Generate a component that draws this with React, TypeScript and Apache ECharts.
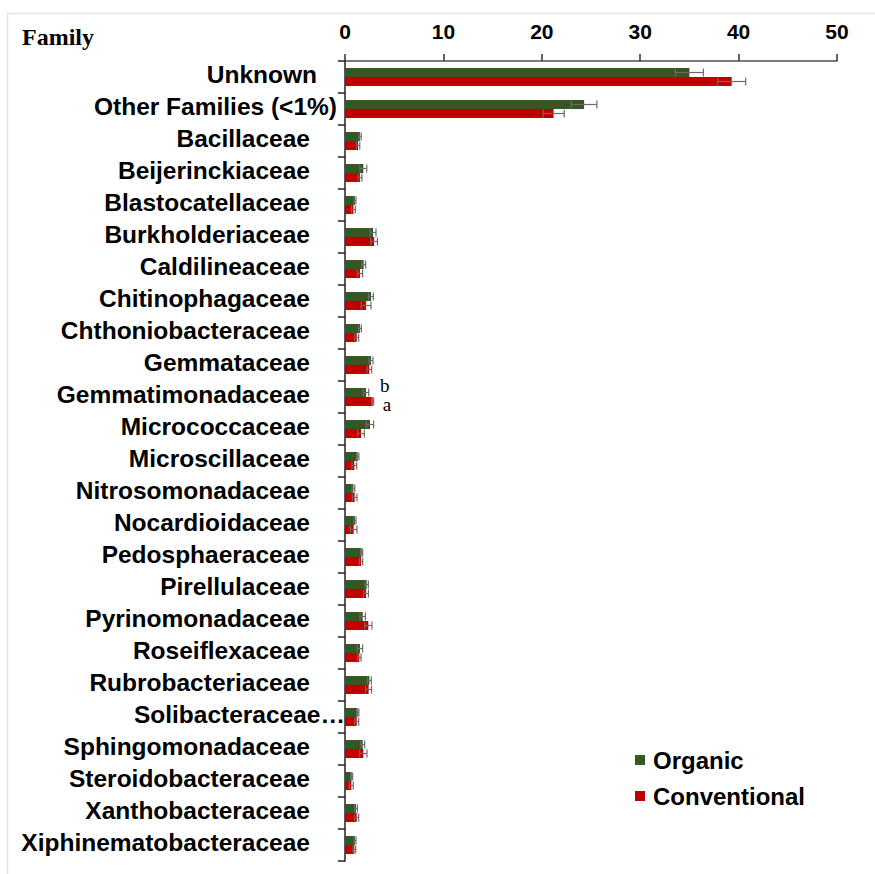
import React, { useEffect, useRef } from "react";
import * as echarts from "echarts";

// Bacterial families, listed top to bottom
const categories = [
  "Unknown",
  "Other Families (<1%)",
  "Bacillaceae",
  "Beijerinckiaceae",
  "Blastocatellaceae",
  "Burkholderiaceae",
  "Caldilineaceae",
  "Chitinophagaceae",
  "Chthoniobacteraceae",
  "Gemmataceae",
  "Gemmatimonadaceae",
  "Micrococcaceae",
  "Microscillaceae",
  "Nitrosomonadaceae",
  "Nocardioidaceae",
  "Pedosphaeraceae",
  "Pirellulaceae",
  "Pyrinomonadaceae",
  "Roseiflexaceae",
  "Rubrobacteriaceae",
  "Solibacteraceae…",
  "Sphingomonadaceae",
  "Steroidobacteraceae",
  "Xanthobacteraceae",
  "Xiphinematobacteraceae",
];

// Relative abundance (%) and standard error
const organic = [
  35.0, 24.3, 1.52, 1.86, 1.02, 2.85, 1.9, 2.64, 1.52, 2.64, 2.14, 2.54, 1.29,
  0.85, 1.02, 1.69, 2.2, 1.8, 1.52, 2.47, 1.29, 1.8, 0.68, 1.12, 1.02,
];
const organicErr = [
  1.42, 1.3, 0.12, 0.35, 0.1, 0.3, 0.2, 0.24, 0.14, 0.2, 0.27, 0.37, 0.12, 0.14,
  0.1, 0.1, 0.17, 0.27, 0.27, 0.2, 0.12, 0.2, 0.1, 0.14, 0.1,
];
const conventional = [
  39.3, 21.2, 1.33, 1.52, 0.85, 2.96, 1.52, 2.14, 1.19, 2.47, 2.81, 1.63, 0.95,
  0.98, 0.88, 1.63, 2.14, 2.37, 1.46, 2.4, 1.19, 1.86, 0.64, 1.19, 0.95,
];
const conventionalErr = [
  1.42, 1.08, 0.17, 0.2, 0.2, 0.34, 0.27, 0.5, 0.2, 0.24, 0.1, 0.34, 0.24, 0.24,
  0.34, 0.17, 0.24, 0.37, 0.17, 0.3, 0.2, 0.37, 0.2, 0.2, 0.14,
];

// Significance letters (family index -> letter)
const organicLetters: Record<number, string> = { 10: "b" };
const conventionalLetters: Record<number, string> = { 10: "a" };

const xTicks = { min: 0, max: 50, interval: 10 };

const GREEN = "#375623";
const RED = "#C00000";
const BAR_W = 9;
const LABEL_FONT = {
  fontFamily: "Liberation Sans",
  fontWeight: "bold" as const,
  fontSize: 24.5,
  color: "#000",
};

// right-hand gap between each family name and the axis
function labelGap(name: string) {
  if (name === "Unknown") return "s28";
  if (name.startsWith("Other")) return "s8";
  if (name.endsWith("…")) return "";
  return "s35";
}

function barData(values: number[], letters: Record<number, string>, dy: number, dist: number) {
  return values.map((v, i) =>
    letters[i]
      ? {
          value: v,
          label: {
            show: true,
            position: "right",
            distance: dist,
            offset: [0, dy],
            formatter: letters[i],
            fontFamily: "Liberation Serif",
            fontSize: 19,
            color: "#000",
          },
        }
      : v
  );
}

function errData(values: number[], errs: number[]) {
  return values.map((v, i) => [v - errs[i], v + errs[i], i]);
}

function errorRenderer(dy: number) {
  return (_params: any, api: any) => {
    const lo = api.coord([api.value(0), api.value(2)]);
    const hi = api.coord([api.value(1), api.value(2)]);
    const y = lo[1] + dy;
    const cap = 4;
    const style = { stroke: "#6b6b6b", lineWidth: 1.2 };
    return {
      type: "group",
      children: [
        { type: "line", shape: { x1: lo[0], y1: y, x2: hi[0], y2: y }, style },
        { type: "line", shape: { x1: lo[0], y1: y - cap, x2: lo[0], y2: y + cap }, style },
        { type: "line", shape: { x1: hi[0], y1: y - cap, x2: hi[0], y2: y + cap }, style },
      ],
    };
  };
}

export default function App() {
  const ref = useRef<HTMLDivElement>(null);

  useEffect(() => {
    if (!ref.current) return;
    const chart = echarts.init(ref.current, undefined, { renderer: "svg" });
    chart.setOption({
      animation: false,
      backgroundColor: "#fff",
      graphic: [
        {
          type: "rect",
          shape: { x: 7.5, y: 13.5, width: 900, height: 900 },
          style: { fill: "none", stroke: "#e4e4e4", lineWidth: 1.5 },
          silent: true,
        },
        {
          type: "text",
          x: 22,
          y: 37,
          style: {
            text: "Family",
            font: "bold 24px 'Liberation Serif'",
            fill: "#000",
            verticalAlign: "middle",
          },
        },
      ],
      legend: {
        data: ["Organic", "Conventional"],
        orient: "vertical",
        left: 635,
        top: 748,
        padding: 0,
        icon: "rect",
        itemWidth: 10,
        itemHeight: 10,
        itemGap: 12,
        textStyle: {
          fontFamily: "Liberation Sans",
          fontWeight: "bold",
          fontSize: 24,
          color: "#000",
          padding: [0, 0, 0, 3],
        },
      },
      grid: { left: 345, top: 61, right: 38, bottom: 13, containLabel: false },
      xAxis: {
        type: "value",
        position: "top",
        min: xTicks.min,
        max: xTicks.max,
        interval: xTicks.interval,
        splitLine: { show: false },
        axisLine: { show: true, lineStyle: { color: "#505050", width: 1.5 } },
        axisTick: { show: true, length: 7, lineStyle: { color: "#303030", width: 1.5 } },
        axisLabel: {
          margin: 19,
          fontFamily: "Liberation Sans",
          fontWeight: "bold",
          fontSize: 21,
          color: "#000",
        },
      },
      yAxis: {
        type: "category",
        data: categories,
        inverse: true,
        axisLine: { show: true, lineStyle: { color: "#202020", width: 1.5 } },
        axisTick: { show: true, length: 7, lineStyle: { color: "#202020", width: 1.5 } },
        axisLabel: {
          margin: 0,
          interval: 0,
          padding: [0, 0, 6, 0],
          ...LABEL_FONT,
          formatter: (name: string) => {
            const gap = labelGap(name);
            return gap ? `{t|${name}}{${gap}| }` : `{t|${name}}`;
          },
          rich: {
            t: { ...LABEL_FONT },
            s35: { ...LABEL_FONT, width: 35 },
            s28: { ...LABEL_FONT, width: 28 },
            s8: { ...LABEL_FONT, width: 8 },
          },
        },
      },
      series: [
        {
          name: "Organic",
          type: "bar",
          barWidth: BAR_W,
          barGap: "0%",
          itemStyle: { color: GREEN },
          data: barData(organic, organicLetters, -7, 14),
          z: 2,
        },
        {
          name: "Conventional",
          type: "bar",
          barWidth: BAR_W,
          barGap: "0%",
          itemStyle: { color: RED },
          data: barData(conventional, conventionalLetters, 3, 10),
          z: 2,
        },
        {
          name: "Organic SE",
          type: "custom",
          renderItem: errorRenderer(-BAR_W / 2),
          encode: { x: [0, 1], y: 2 },
          data: errData(organic, organicErr),
          z: 3,
          silent: true,
        },
        {
          name: "Conventional SE",
          type: "custom",
          renderItem: errorRenderer(BAR_W / 2),
          encode: { x: [0, 1], y: 2 },
          data: errData(conventional, conventionalErr),
          z: 3,
          silent: true,
        },
      ],
    });
    return () => chart.dispose();
  }, []);

  return (
    <div
      ref={ref}
      style={{ position: "fixed", left: 0, top: 0, width: 875, height: 874 }}
    />
  );
}
